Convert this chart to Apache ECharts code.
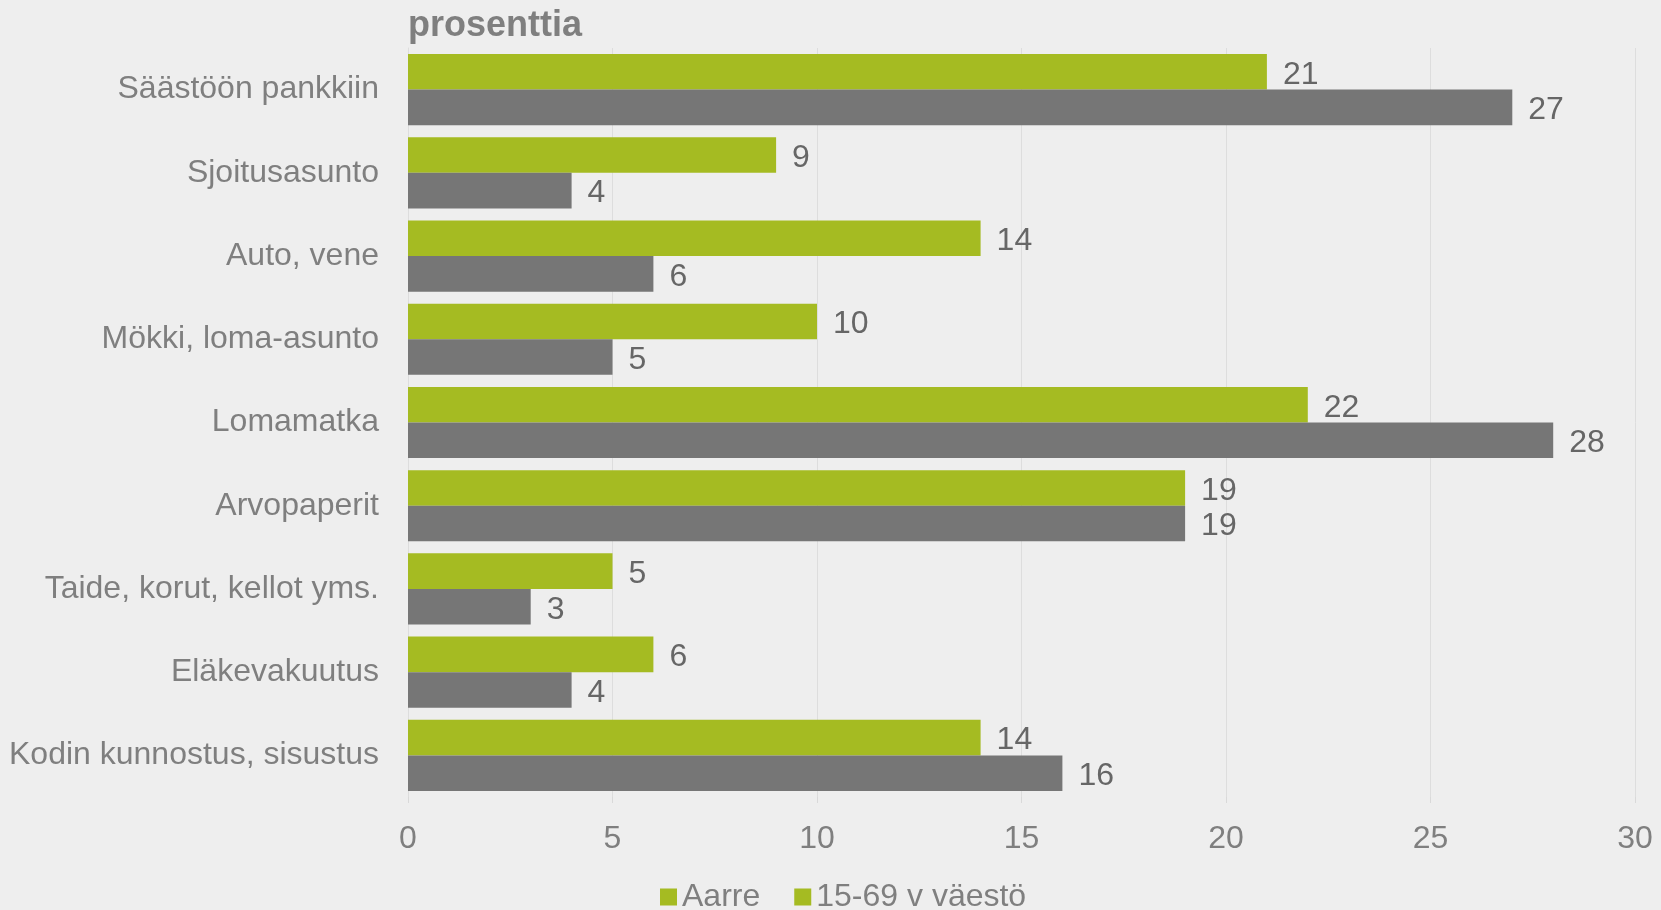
<!DOCTYPE html>
<html><head><meta charset="utf-8">
<script src="https://cdn.jsdelivr.net/npm/echarts@6/dist/echarts.min.js"></script>
<style>html,body{margin:0;padding:0;background:#eeeeee}#c{width:1661px;height:910px}</style>
</head><body><div id="c"></div>
<script>
const categories = ["Säästöön pankkiin","Sjoitusasunto","Auto, vene","Mökki, loma-asunto","Lomamatka","Arvopaperit","Taide, korut, kellot yms.","Eläkevakuutus","Kodin kunnostus, sisustus"];
const aarre = [21,9,14,10,22,19,5,6,14];
const vaesto = [27,4,6,5,28,19,3,4,16];
const xTicks = [0,5,10,15,20,25,30];
const seriesNames = ["Aarre","15-69 v väestö"];
const green = "#a5bb22", gray = "#767676";
const font = "'Liberation Sans', Arial, sans-serif";
const chart = echarts.init(document.getElementById('c'));
chart.setOption({
  backgroundColor: "#eeeeee",
  animation: false,
  title: {text: "prosenttia", left: 403, top: 3, textStyle: {fontFamily: font, fontSize: 36, fontWeight: "bold", color: "#7f7f7f"}},
  legend: {
    bottom: -8, left: 655, itemWidth: 17, itemHeight: 17, itemGap: 34,
    textStyle: {fontFamily: font, fontSize: 32, color: "#7f7f7f"},
    data: [{name: seriesNames[0], icon: "rect", itemStyle: {color: green}}, {name: seriesNames[1], icon: "rect", itemStyle: {color: green}}]
  },
  grid: {left: 408, right: 26, top: 48, bottom: 113, containLabel: false},
  xAxis: {
    type: "value", min: xTicks[0], max: xTicks[xTicks.length-1], interval: 5,
    axisLine: {show: false},
    axisTick: {show: true, length: 6, lineStyle: {color: "#d9d9d9"}},
    splitLine: {show: true, lineStyle: {color: "#dddddd", width: 1}},
    axisLabel: {fontFamily: font, fontSize: 32, color: "#7f7f7f", margin: 26}
  },
  yAxis: {
    type: "category", data: categories, inverse: true,
    axisLine: {show: true, lineStyle: {color: "#dddddd"}},
    axisTick: {show: false},
    axisLabel: {fontFamily: font, fontSize: 32, color: "#7f7f7f", margin: 29, padding: [10, 0, 0, 0]}
  },
  series: [
    {name: seriesNames[0], type: "bar", data: aarre, barGap: "0%", barCategoryGap: "14.5%", itemStyle: {color: green},
     label: {show: true, position: "right", distance: 16, offset: [0, 3], fontFamily: font, fontSize: 32, color: "#666666"}},
    {name: seriesNames[1], type: "bar", data: vaesto, barGap: "0%", barCategoryGap: "14.5%", itemStyle: {color: gray},
     label: {show: true, position: "right", distance: 16, offset: [0, 3], fontFamily: font, fontSize: 32, color: "#666666"}}
  ]
});
</script></body></html>
